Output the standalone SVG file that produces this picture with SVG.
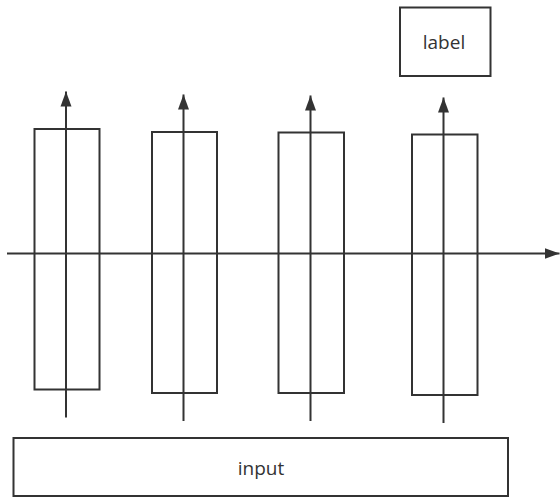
<svg xmlns="http://www.w3.org/2000/svg" width="560" height="497" viewBox="0 0 560 497">
  <style>
    .box { fill: #ffffff; stroke: #333333; stroke-width: 2; }
    .line { fill: none; stroke: #333333; stroke-width: 2; }
    .txt { font-family: "Open Sans", "Noto Sans", sans-serif; font-size: 19px; fill: #333333; text-anchor: middle; }
  </style>
  <defs>
    <marker id="arrow" markerUnits="userSpaceOnUse" markerWidth="16" markerHeight="12" refX="15" refY="6" orient="auto">
      <path d="M0,0.5 L15,6 L0,11.5 Z" fill="#333333"/>
    </marker>
  </defs>

  <g id="cell-1"><rect class="box" x="34.5" y="129" width="65" height="260.5"/></g>
  <g id="cell-2"><rect class="box" x="152" y="132" width="65" height="261"/></g>
  <g id="cell-3"><rect class="box" x="278.5" y="132.5" width="65.5" height="260.5"/></g>
  <g id="cell-4"><rect class="box" x="412" y="134.5" width="65.5" height="260.5"/></g>

  <g id="label">
    <rect class="box" x="400" y="7.5" width="90.5" height="68.5"/>
    <text class="txt" x="444" y="49">label</text>
  </g>

  <g id="input">
    <rect class="box" x="13.5" y="438" width="494.5" height="58"/>
    <text class="txt" x="261" y="474.5">input</text>
  </g>

  <g id="connectors">
    <line class="line" x1="7" y1="253.5" x2="559.5" y2="253.5" marker-end="url(#arrow)"/>
    <line class="line" x1="66" y1="417.5" x2="66" y2="91.5" marker-end="url(#arrow)"/>
    <line class="line" x1="183.5" y1="421" x2="183.5" y2="94.5" marker-end="url(#arrow)"/>
    <line class="line" x1="310.5" y1="421" x2="310.5" y2="95.5" marker-end="url(#arrow)"/>
    <line class="line" x1="443.5" y1="423" x2="443.5" y2="97.5" marker-end="url(#arrow)"/>
  </g>
</svg>
